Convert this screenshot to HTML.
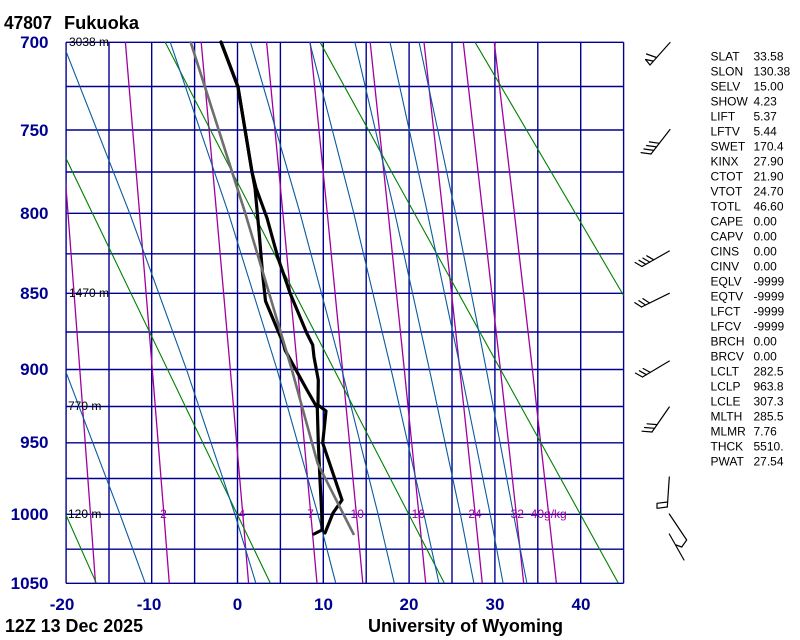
<!DOCTYPE html>
<html><head><meta charset="utf-8">
<style>
html,body{margin:0;padding:0;background:#fff;}
svg{display:block;}
text{font-family:"Liberation Sans",Arial,sans-serif;}
</style></head>
<body>
<svg width="800" height="640" viewBox="0 0 800 640" xmlns="http://www.w3.org/2000/svg">
<defs><clipPath id="c"><rect x="66" y="42" width="557.6" height="541.3"/></clipPath></defs>
<rect x="0" y="0" width="800" height="640" fill="#fff"/>

<!-- grid -->
<g stroke="#000090" stroke-width="1.4" fill="none">
<line x1="66" y1="42.3" x2="623.6" y2="42.3"/>
<line x1="66" y1="86.5" x2="623.6" y2="86.5"/>
<line x1="66" y1="130" x2="623.6" y2="130"/>
<line x1="66" y1="172" x2="623.6" y2="172"/>
<line x1="66" y1="213.3" x2="623.6" y2="213.3"/>
<line x1="66" y1="253.8" x2="623.6" y2="253.8"/>
<line x1="66" y1="293.3" x2="623.6" y2="293.3"/>
<line x1="66" y1="332" x2="623.6" y2="332"/>
<line x1="66" y1="369.5" x2="623.6" y2="369.5"/>
<line x1="66" y1="406.5" x2="623.6" y2="406.5"/>
<line x1="66" y1="442.8" x2="623.6" y2="442.8"/>
<line x1="66" y1="478.5" x2="623.6" y2="478.5"/>
<line x1="66" y1="514.3" x2="623.6" y2="514.3"/>
<line x1="66" y1="549.2" x2="623.6" y2="549.2"/>
<line x1="66" y1="583.3" x2="623.6" y2="583.3"/>
<line x1="66.1" y1="42.3" x2="66.1" y2="583.3"/>
<line x1="109" y1="42.3" x2="109" y2="583.3"/>
<line x1="151.7" y1="42.3" x2="151.7" y2="583.3"/>
<line x1="194.6" y1="42.3" x2="194.6" y2="583.3"/>
<line x1="237.5" y1="42.3" x2="237.5" y2="583.3"/>
<line x1="280.4" y1="42.3" x2="280.4" y2="583.3"/>
<line x1="323.3" y1="42.3" x2="323.3" y2="583.3"/>
<line x1="366.2" y1="42.3" x2="366.2" y2="583.3"/>
<line x1="409.1" y1="42.3" x2="409.1" y2="583.3"/>
<line x1="452" y1="42.3" x2="452" y2="583.3"/>
<line x1="494.9" y1="42.3" x2="494.9" y2="583.3"/>
<line x1="537.8" y1="42.3" x2="537.8" y2="583.3"/>
<line x1="580.7" y1="42.3" x2="580.7" y2="583.3"/>
<line x1="623.6" y1="42.3" x2="623.6" y2="583.3"/>
</g>

<g clip-path="url(#c)" fill="none">
<!-- mixing ratio lines -->
<g stroke="#a000a0" stroke-width="1.3">
<polyline points="54.8,42.3 68,213.3 79.8,369.5 90.5,514.3 95.5,583.3"/>
<polyline points="125.4,42.3 139.6,213.3 152.3,369.5 163.9,514.3 169.3,583.3"/>
<polyline points="201.2,42.3 216.6,213.3 230.3,369.5 242.8,514.3 248.6,583.3"/>
<polyline points="266.6,42.3 282.9,213.3 297.6,369.5 310.8,514.3 317,583.3"/>
<polyline points="310.2,42.3 327.3,213.3 342.5,369.5 356.4,514.3 362.8,583.3"/>
<polyline points="370.2,42.3 388.2,213.3 404.3,369.5 418.9,514.3 425.7,583.3"/>
<polyline points="424,42.3 442.9,213.3 459.8,369.5 475.2,514.3 482.3,583.3"/>
<polyline points="463.3,42.3 482.8,213.3 500.4,369.5 516.3,514.3 523.7,583.3"/>
<polyline points="494.3,42.3 514.4,213.3 532.4,369.5 548.7,514.3 556.4,583.3"/>
</g>
<!-- dry adiabats -->
<g stroke="#008000" stroke-width="1.1">
<line x1="-144.5" y1="42.3" x2="96.4" y2="583.3"/>
<line x1="10.2" y1="42.3" x2="270.4" y2="583.3"/>
<line x1="165.2" y1="42.3" x2="444.4" y2="583.3"/>
<line x1="320.1" y1="42.3" x2="618.4" y2="583.3"/>
<line x1="475.1" y1="42.3" x2="792.4" y2="583.3"/>
</g>
<!-- moist adiabats -->
<g stroke="#0a5aa0" stroke-width="1.1">
<polyline points="0.7,213.3 65,369.5 120,514.3 145.3,583.3"/>
<polyline points="62.5,42.3 129.7,213.3 186.5,369.5 234.9,514.3 255.9,583.3"/>
<polyline points="170.3,42.3 228.5,213.3 277,369.5 317.9,514.3 335.8,583.3"/>
<polyline points="250.5,42.3 300.1,213.3 341.8,369.5 378.1,514.3 394.3,583.3"/>
<polyline points="309.7,42.3 353.8,213.3 391.1,369.5 423.9,514.3 439,583.3"/>
<polyline points="354.9,42.3 394.9,213.3 429.4,369.5 460.4,514.3 473.9,583.3"/>
<polyline points="390,42.3 427.5,213.3 460.7,369.5 490.2,514.3 503.1,583.3"/>
<polyline points="419.1,42.3 455.5,213.3 486.3,369.5 513.5,514.3 526.9,583.3"/>
</g>
</g>

<!-- title -->
<text x="4" y="29" font-size="18" font-weight="bold" fill="#000" textLength="48" lengthAdjust="spacingAndGlyphs">47807</text>
<text x="64" y="29" font-size="18" font-weight="bold" fill="#000" textLength="75" lengthAdjust="spacingAndGlyphs">Fukuoka</text>

<!-- pressure labels -->
<g font-size="17" font-weight="bold" fill="#000090" text-anchor="end">
<text x="48.5" y="48">700</text>
<text x="48.5" y="136">750</text>
<text x="48.5" y="219">800</text>
<text x="48.5" y="299">850</text>
<text x="48.5" y="375">900</text>
<text x="48.5" y="448">950</text>
<text x="48.5" y="520">1000</text>
<text x="48.5" y="589">1050</text>
</g>

<!-- temperature labels -->
<g font-size="17" font-weight="bold" fill="#000090" text-anchor="middle">
<text x="62" y="610">-20</text>
<text x="149" y="610">-10</text>
<text x="237.5" y="610">0</text>
<text x="323.5" y="610">10</text>
<text x="409" y="610">20</text>
<text x="495" y="610">30</text>
<text x="581" y="610">40</text>
</g>

<text x="5" y="632" font-size="18" font-weight="bold" fill="#000" textLength="138" lengthAdjust="spacingAndGlyphs">12Z 13 Dec 2025</text>
<text x="368" y="632" font-size="18" font-weight="bold" fill="#000" textLength="195" lengthAdjust="spacingAndGlyphs">University of Wyoming</text>

<!-- height labels -->
<g font-size="12" fill="#000">
<text x="69" y="46">3038 m</text>
<text x="69" y="297">1470 m</text>
<text x="68" y="410">770 m</text>
<text x="68" y="518">120 m</text>
</g>

<!-- mixing ratio labels -->
<g font-size="12" fill="#a000a0" text-anchor="middle">
<text x="163.5" y="518">2</text>
<text x="241.8" y="518">4</text>
<text x="310.5" y="518">7</text>
<text x="357.2" y="518">10</text>
<text x="418.3" y="518">16</text>
<text x="475" y="518">24</text>
<text x="517.2" y="518">32</text>
<text x="548.7" y="518">40g/kg</text>
</g>

<!-- stats -->
<g font-size="12" fill="#000">
<text x="710.5" y="60.7">SLAT</text><text x="753.5" y="60.7">33.58</text>
<text x="710.5" y="75.7">SLON</text><text x="753.5" y="75.7">130.38</text>
<text x="710.5" y="90.7">SELV</text><text x="753.5" y="90.7">15.00</text>
<text x="710.5" y="105.7">SHOW</text><text x="753.5" y="105.7">4.23</text>
<text x="710.5" y="120.7">LIFT</text><text x="753.5" y="120.7">5.37</text>
<text x="710.5" y="135.7">LFTV</text><text x="753.5" y="135.7">5.44</text>
<text x="710.5" y="150.7">SWET</text><text x="753.5" y="150.7">170.4</text>
<text x="710.5" y="165.7">KINX</text><text x="753.5" y="165.7">27.90</text>
<text x="710.5" y="180.7">CTOT</text><text x="753.5" y="180.7">21.90</text>
<text x="710.5" y="195.7">VTOT</text><text x="753.5" y="195.7">24.70</text>
<text x="710.5" y="210.7">TOTL</text><text x="753.5" y="210.7">46.60</text>
<text x="710.5" y="225.7">CAPE</text><text x="753.5" y="225.7">0.00</text>
<text x="710.5" y="240.7">CAPV</text><text x="753.5" y="240.7">0.00</text>
<text x="710.5" y="255.7">CINS</text><text x="753.5" y="255.7">0.00</text>
<text x="710.5" y="270.7">CINV</text><text x="753.5" y="270.7">0.00</text>
<text x="710.5" y="285.7">EQLV</text><text x="753.5" y="285.7">-9999</text>
<text x="710.5" y="300.7">EQTV</text><text x="753.5" y="300.7">-9999</text>
<text x="710.5" y="315.7">LFCT</text><text x="753.5" y="315.7">-9999</text>
<text x="710.5" y="330.7">LFCV</text><text x="753.5" y="330.7">-9999</text>
<text x="710.5" y="345.7">BRCH</text><text x="753.5" y="345.7">0.00</text>
<text x="710.5" y="360.7">BRCV</text><text x="753.5" y="360.7">0.00</text>
<text x="710.5" y="375.7">LCLT</text><text x="753.5" y="375.7">282.5</text>
<text x="710.5" y="390.7">LCLP</text><text x="753.5" y="390.7">963.8</text>
<text x="710.5" y="405.7">LCLE</text><text x="753.5" y="405.7">307.3</text>
<text x="710.5" y="420.7">MLTH</text><text x="753.5" y="420.7">285.5</text>
<text x="710.5" y="435.7">MLMR</text><text x="753.5" y="435.7">7.76</text>
<text x="710.5" y="450.7">THCK</text><text x="753.5" y="450.7">5510.</text>
<text x="710.5" y="465.7">PWAT</text><text x="753.5" y="465.7">27.54</text>
</g>

<!-- sounding -->
<g fill="none" stroke-linejoin="round" stroke-linecap="round">
<polyline stroke="#000" stroke-width="3.2" points="221,42 238,87 252,172 255,188 259,231 262.5,273 265.5,301 283.5,344 285,350 307,390 317.3,408 318.3,443 320,480 321.7,513 322,530 314,534"/>
<polyline stroke="#000" stroke-width="3.2" points="221,42 238,87 252,172 256,188 267,218 278,258 287,284 290,293 306.7,333 312.7,345 314,357 318.3,380 318,405 326,411 322.7,443 342,500 333,513 325,533"/>
<polyline stroke="#6e6e6e" stroke-width="2.6" points="190.7,42.3 245.3,213.3 291.8,369.5 317.7,463.5 353.5,534"/>
</g>

<!-- wind barbs -->
<g fill="none" stroke="#000" stroke-width="1.2" stroke-linecap="round" stroke-linejoin="round">
<line x1="670" y1="42.5" x2="650" y2="65"/>
<polyline points="650,65 645.5,59.5 653,61"/>
<line x1="656.5" y1="57.5" x2="646.5" y2="54"/>

<line x1="670" y1="129.5" x2="651" y2="154"/>
<line x1="651" y1="154" x2="641.1" y2="152.6"/>
<line x1="653.8" y1="150.4" x2="643.9" y2="149"/>
<line x1="656.5" y1="146.9" x2="646.6" y2="145.5"/>
<line x1="659.3" y1="143.3" x2="649.4" y2="141.9"/>

<line x1="669.3" y1="251" x2="642" y2="266.5"/>
<line x1="642" y1="266.5" x2="635.1" y2="262.5"/>
<line x1="645.9" y1="264.3" x2="639" y2="260.3"/>
<line x1="649.8" y1="262.1" x2="642.9" y2="258.1"/>
<line x1="653.7" y1="259.8" x2="646.8" y2="255.8"/>

<line x1="669.3" y1="293.3" x2="641.5" y2="307"/>
<line x1="641.5" y1="307" x2="634.8" y2="302.6"/>
<line x1="645.5" y1="305" x2="638.9" y2="300.6"/>
<line x1="649.6" y1="303" x2="642.9" y2="298.6"/>

<line x1="669.3" y1="361" x2="642.5" y2="377"/>
<line x1="642.5" y1="377" x2="635.5" y2="373.1"/>
<line x1="646.4" y1="374.7" x2="639.4" y2="370.8"/>
<line x1="650.2" y1="372.4" x2="643.2" y2="368.5"/>

<line x1="669.3" y1="407" x2="652" y2="432"/>
<line x1="652" y1="432" x2="642" y2="431.2"/>
<line x1="654.6" y1="428.3" x2="644.6" y2="427.5"/>
<line x1="657.1" y1="424.6" x2="647.1" y2="423.8"/>

<polyline points="669.3,477 667.3,507"/>
<polyline points="667.5,502 657,503.3 657,508.3 667.3,507"/>
<polyline points="669.3,514 686.7,540 681.7,547"/>
<polyline points="669.3,534 684,560"/>
<polyline points="676,545 681.7,547"/>
</g>
</svg>
</body></html>
